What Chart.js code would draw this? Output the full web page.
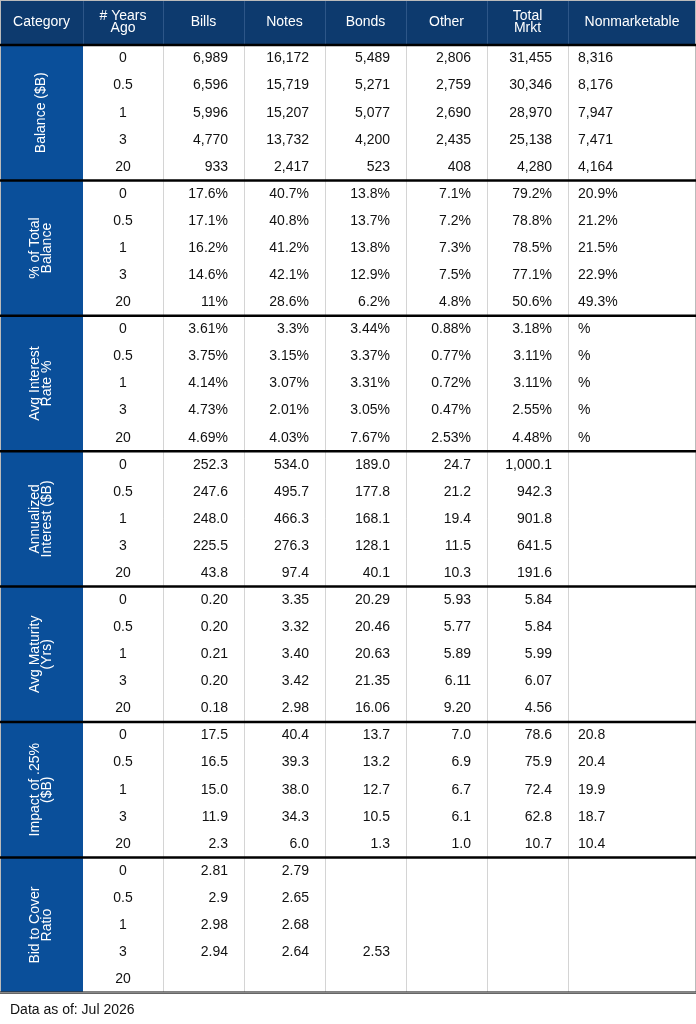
<!DOCTYPE html>
<html>
<head>
<meta charset="utf-8">
<script src="https://cdn.jsdelivr.net/npm/chart.js@4"></script>
<style>
  html, body { margin: 0; padding: 0; background: #fff; }
</style>
</head>
<body>
<canvas id="c" width="696" height="1024"></canvas>
<script>
// Table data
const headers = ['Category', '# Years\nAgo', 'Bills', 'Notes', 'Bonds', 'Other', 'Total\nMrkt', 'Nonmarketable'];
const yearsAgo = ['0', '0.5', '1', '3', '20'];
const categories = ['Balance ($B)', '% of Total\nBalance', 'Avg Interest\nRate %', 'Annualized\nInterest ($B)',
    'Avg Maturity\n(Yrs)', 'Impact of .25%\n($B)', 'Bid to Cover\nRatio'];

const balance = [
    ['6,989', '16,172', '5,489', '2,806', '31,455', '8,316'],
    ['6,596', '15,719', '5,271', '2,759', '30,346', '8,176'],
    ['5,996', '15,207', '5,077', '2,690', '28,970', '7,947'],
    ['4,770', '13,732', '4,200', '2,435', '25,138', '7,471'],
    ['933', '2,417', '523', '408', '4,280', '4,164']
];
const pctOfTotal = [
    ['17.6%', '40.7%', '13.8%', '7.1%', '79.2%', '20.9%'],
    ['17.1%', '40.8%', '13.7%', '7.2%', '78.8%', '21.2%'],
    ['16.2%', '41.2%', '13.8%', '7.3%', '78.5%', '21.5%'],
    ['14.6%', '42.1%', '12.9%', '7.5%', '77.1%', '22.9%'],
    ['11%', '28.6%', '6.2%', '4.8%', '50.6%', '49.3%']
];
const avgRate = [
    ['3.61%', '3.3%', '3.44%', '0.88%', '3.18%', '%'],
    ['3.75%', '3.15%', '3.37%', '0.77%', '3.11%', '%'],
    ['4.14%', '3.07%', '3.31%', '0.72%', '3.11%', '%'],
    ['4.73%', '2.01%', '3.05%', '0.47%', '2.55%', '%'],
    ['4.69%', '4.03%', '7.67%', '2.53%', '4.48%', '%']
];
const annInterest = [
    ['252.3', '534.0', '189.0', '24.7', '1,000.1', ''],
    ['247.6', '495.7', '177.8', '21.2', '942.3', ''],
    ['248.0', '466.3', '168.1', '19.4', '901.8', ''],
    ['225.5', '276.3', '128.1', '11.5', '641.5', ''],
    ['43.8', '97.4', '40.1', '10.3', '191.6', '']
];
const avgMaturity = [
    ['0.20', '3.35', '20.29', '5.93', '5.84', ''],
    ['0.20', '3.32', '20.46', '5.77', '5.84', ''],
    ['0.21', '3.40', '20.63', '5.89', '5.99', ''],
    ['0.20', '3.42', '21.35', '6.11', '6.07', ''],
    ['0.18', '2.98', '16.06', '9.20', '4.56', '']
];
const impact25 = [
    ['17.5', '40.4', '13.7', '7.0', '78.6', '20.8'],
    ['16.5', '39.3', '13.2', '6.9', '75.9', '20.4'],
    ['15.0', '38.0', '12.7', '6.7', '72.4', '19.9'],
    ['11.9', '34.3', '10.5', '6.1', '62.8', '18.7'],
    ['2.3', '6.0', '1.3', '1.0', '10.7', '10.4']
];
const bidToCover = [
    ['2.81', '2.79', '', '', '', ''],
    ['2.9', '2.65', '', '', '', ''],
    ['2.98', '2.68', '', '', '', ''],
    ['2.94', '2.64', '2.53', '', '', ''],
    ['', '', '', '', '', '']
];
const groups = [balance, pctOfTotal, avgRate, annInterest, avgMaturity, impact25, bidToCover];
const footnote = 'Data as of: Jul 2026';

// Layout (scale units = px)
const colEdges = [0, 83, 163, 244, 325, 406, 487, 568, 696];
const headerH = 45;
const groupH = 135.4;
const rowH = groupH / 5;
const FONT = '"Liberation Sans", Arial, sans-serif';

function multiline(ctx, text, x, y, lh) {
    const lines = text.split('\n');
    const off = (lines.length - 1) * lh / 2;
    lines.forEach((l, i) => ctx.fillText(l, x, y - off + i * lh));
}

const tablePlugin = {
    id: 'table',
    afterDraw(chart) {
        const ctx = chart.ctx;
        const xs = chart.scales.x, ys = chart.scales.y;
        const X = v => xs.getPixelForValue(v);
        const Y = v => ys.getPixelForValue(v);
        const tableBottom = headerH + groups.length * groupH;
        ctx.save();

        // header band
        ctx.fillStyle = '#0d3a6e';
        ctx.fillRect(X(0), Y(0), X(696) - X(0), Y(headerH) - Y(0));
        // category column
        ctx.fillStyle = '#0a4f9a';
        ctx.fillRect(X(0), Y(headerH), X(colEdges[1]) - X(0), Y(tableBottom) - Y(headerH));

        // vertical dividers
        ctx.lineWidth = 1;
        for (let i = 1; i < colEdges.length - 1; i++) {
            ctx.strokeStyle = '#2d5688';
            ctx.beginPath();
            ctx.moveTo(X(colEdges[i]) + 0.5, Y(0));
            ctx.lineTo(X(colEdges[i]) + 0.5, Y(headerH));
            ctx.stroke();
            if (i > 1) {
                ctx.strokeStyle = '#d4d4d4';
                ctx.beginPath();
                ctx.moveTo(X(colEdges[i]) + 0.5, Y(headerH));
                ctx.lineTo(X(colEdges[i]) + 0.5, Y(tableBottom));
                ctx.stroke();
            }
        }
        ctx.strokeStyle = '#bbbbbb';
        ctx.strokeRect(X(0) + 0.5, Y(0) + 0.5, X(696) - X(0) - 1, Y(tableBottom) - Y(0));

        // header text
        ctx.fillStyle = '#ffffff';
        ctx.font = '14px ' + FONT;
        ctx.textAlign = 'center';
        ctx.textBaseline = 'middle';
        headers.forEach((h, i) => {
            multiline(ctx, h, X((colEdges[i] + colEdges[i + 1]) / 2), Y(headerH / 2), 12);
        });

        // group separators
        ctx.strokeStyle = '#000000';
        ctx.lineWidth = 2.5;
        for (let g = 0; g <= groups.length; g++) {
            const yy = Y(headerH + g * groupH);
            ctx.beginPath();
            ctx.moveTo(X(0), yy);
            ctx.lineTo(X(696), yy);
            ctx.stroke();
        }
        ctx.strokeStyle = '#888888';
        ctx.lineWidth = 2;
        ctx.beginPath();
        ctx.moveTo(X(0), Y(tableBottom));
        ctx.lineTo(X(696), Y(tableBottom));
        ctx.stroke();

        // category labels (rotated)
        groups.forEach((rows, g) => {
            const cy = Y(headerH + g * groupH + groupH / 2);
            const cx = X(colEdges[1] / 2);
            ctx.save();
            ctx.translate(cx, cy);
            ctx.rotate(-Math.PI / 2);
            ctx.fillStyle = '#ffffff';
            ctx.font = '14px ' + FONT;
            ctx.textAlign = 'center';
            multiline(ctx, categories[g], 0, 0, 12);
            ctx.restore();

            // cells
            rows.forEach((vals, r) => {
                const ry = Y(headerH + g * groupH + (r + 0.5) * rowH);
                ctx.fillStyle = '#111111';
                ctx.font = '14px ' + FONT;
                ctx.textAlign = 'center';
                ctx.fillText(yearsAgo[r], X((colEdges[1] + colEdges[2]) / 2), ry);
                vals.forEach((v, c) => {
                    if (!v) return;
                    if (c === 5) {
                        ctx.textAlign = 'left';
                        ctx.fillText(v, X(colEdges[7] + 10), ry);
                    } else {
                        ctx.textAlign = 'right';
                        ctx.fillText(v, X(colEdges[c + 3] - 16), ry);
                    }
                });
            });
        });

        // footnote
        ctx.fillStyle = '#111111';
        ctx.textAlign = 'left';
        ctx.font = '14px ' + FONT;
        ctx.fillText(footnote, X(10), Y(1010));
        ctx.restore();
    }
};

new Chart(document.getElementById('c'), {
    type: 'scatter',
    data: { datasets: [] },
    options: {
        responsive: false,
        animation: false,
        layout: { padding: 0 },
        plugins: { legend: { display: false }, tooltip: { enabled: false } },
        scales: {
            x: { type: 'linear', min: 0, max: 696, display: false },
            y: { type: 'linear', min: 0, max: 1024, reverse: true, display: false }
        }
    },
    plugins: [tablePlugin]
});
</script>
</body>
</html>
